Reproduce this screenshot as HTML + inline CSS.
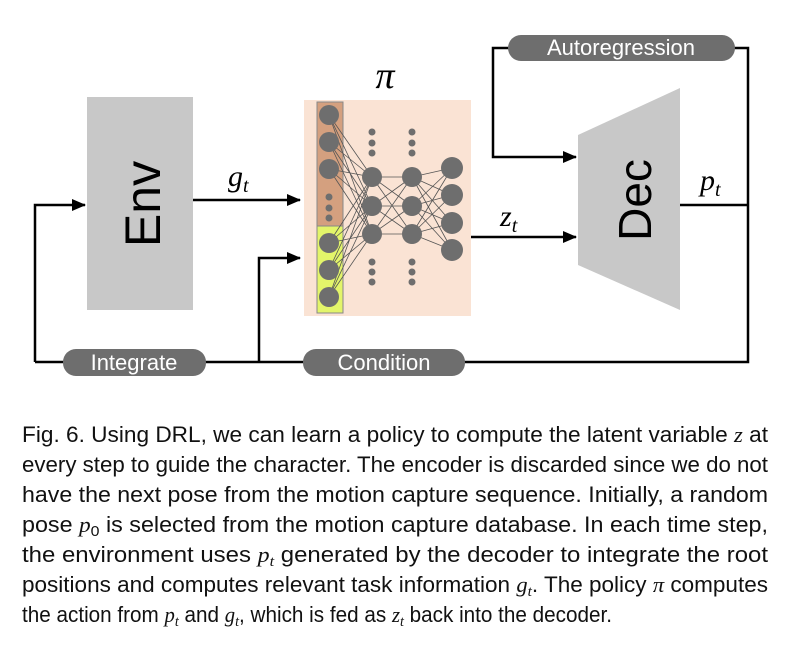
<!DOCTYPE html>
<html><head><meta charset="utf-8"><style>body{margin:0;background:#fff}svg{display:block}</style></head><body>
<svg width="786" height="662" viewBox="0 0 786 662" xmlns="http://www.w3.org/2000/svg">
<defs><marker id="ah" markerWidth="14" markerHeight="14" refX="13" refY="7" orient="auto" markerUnits="userSpaceOnUse"><path d="M0,1 L14,7 L0,13 z" fill="#000"/></marker></defs>
<g stroke="#000" stroke-width="2.5" fill="none">
<path d="M35,362 H748 V48 H493 V157 H576" marker-end="url(#ah)"/>
<path d="M35,362 V205 H85" marker-end="url(#ah)"/>
<path d="M259,362 V258 H300" marker-end="url(#ah)"/>
<path d="M193,200 H300" marker-end="url(#ah)"/>
<path d="M471,237 H576" marker-end="url(#ah)"/>
<path d="M680,205 H748"/>
</g>
<rect x="87" y="97" width="106" height="213" fill="#c8c8c8"/>
<text transform="translate(160,204) rotate(-90)" text-anchor="middle" font-family="Liberation Sans, sans-serif" font-size="50" fill="#000">Env</text>
<polygon points="578,135 680,88 680,310 578,265" fill="#c8c8c8"/>
<text transform="translate(651,200) rotate(-90)" text-anchor="middle" font-family="Liberation Sans, sans-serif" font-size="46" fill="#000">Dec</text>
<rect x="304" y="100" width="167" height="216" fill="#fae3d4"/>
<rect x="317" y="102" width="26" height="124" fill="#d4a07f" stroke="#888" stroke-width="1"/>
<rect x="317" y="226" width="26" height="87" fill="#e3f56a" stroke="#888" stroke-width="1"/>
<g stroke="#555" stroke-width="0.8">
<path d="M329,115 L372,177 M329,115 L372,206 M329,115 L372,234 M329,142 L372,177 M329,142 L372,206 M329,142 L372,234 M329,169 L372,177 M329,169 L372,206 M329,169 L372,234 M329,243 L372,177 M329,243 L372,206 M329,243 L372,234 M329,270 L372,177 M329,270 L372,206 M329,270 L372,234 M329,297 L372,177 M329,297 L372,206 M329,297 L372,234"/>
<path d="M372,177 L412,177 M372,177 L412,206 M372,177 L412,234 M372,206 L412,177 M372,206 L412,206 M372,206 L412,234 M372,234 L412,177 M372,234 L412,206 M372,234 L412,234"/>
<path d="M412,177 L452,168 M412,177 L452,195 M412,177 L452,223 M412,177 L452,250 M412,206 L452,168 M412,206 L452,195 M412,206 L452,223 M412,206 L452,250 M412,234 L452,168 M412,234 L452,195 M412,234 L452,223 M412,234 L452,250"/>
</g>
<g fill="#6e6e6e">
<circle cx="329" cy="115" r="10"/><circle cx="329" cy="142" r="10"/><circle cx="329" cy="169" r="10"/>
<circle cx="329" cy="243" r="10"/><circle cx="329" cy="270" r="10"/><circle cx="329" cy="297" r="10"/>
<circle cx="329" cy="197" r="3.5"/><circle cx="329" cy="208" r="3.5"/><circle cx="329" cy="218" r="3.5"/>
<circle cx="372" cy="177" r="10"/><circle cx="372" cy="206" r="10"/><circle cx="372" cy="234" r="10"/>
<circle cx="412" cy="177" r="10"/><circle cx="412" cy="206" r="10"/><circle cx="412" cy="234" r="10"/>
<circle cx="452" cy="168" r="11"/><circle cx="452" cy="195" r="11"/><circle cx="452" cy="223" r="11"/><circle cx="452" cy="250" r="11"/>
<circle cx="372" cy="132" r="3.5"/><circle cx="372" cy="143" r="3.5"/><circle cx="372" cy="153" r="3.5"/>
<circle cx="412" cy="132" r="3.5"/><circle cx="412" cy="143" r="3.5"/><circle cx="412" cy="153" r="3.5"/>
<circle cx="372" cy="262" r="3.5"/><circle cx="372" cy="272" r="3.5"/><circle cx="372" cy="282" r="3.5"/>
<circle cx="412" cy="262" r="3.5"/><circle cx="412" cy="272" r="3.5"/><circle cx="412" cy="282" r="3.5"/>
</g>
<g font-family="Liberation Serif, serif" font-style="italic" fill="#000">
<text x="385" y="88" font-size="38" text-anchor="middle">π</text>
<text x="228" y="186" font-size="30">g<tspan font-size="20" dy="6">t</tspan></text>
<text x="500" y="226" font-size="30">z<tspan font-size="20" dy="6">t</tspan></text>
<text x="700" y="190" font-size="30">p<tspan font-size="20" dy="6">t</tspan></text>
</g>
<g font-family="Liberation Sans, sans-serif" font-size="22" fill="#fff" text-anchor="middle">
<rect x="508" y="35" width="227" height="26" rx="13" fill="#6e6e6e"/><text x="621" y="55">Autoregression</text>
<rect x="63" y="349" width="143" height="27" rx="13" fill="#6e6e6e"/><text x="134" y="370">Integrate</text>
<rect x="303" y="349" width="162" height="27" rx="13" fill="#6e6e6e"/><text x="384" y="370">Condition</text>
</g>
<g font-family="Liberation Sans, sans-serif" font-size="22" fill="#111">
<text x="22" y="442" textLength="746" lengthAdjust="spacingAndGlyphs">Fig. 6.  Using DRL, we can learn a policy to compute the latent variable <tspan font-family="Liberation Serif, serif" font-style="italic">z</tspan> at</text>
<text x="22" y="472" textLength="746" lengthAdjust="spacingAndGlyphs">every step to guide the character. The encoder is discarded since we do not</text>
<text x="22" y="502" textLength="746" lengthAdjust="spacingAndGlyphs">have the next pose from the motion capture sequence. Initially, a random</text>
<text x="22" y="532" textLength="746" lengthAdjust="spacingAndGlyphs">pose <tspan font-family="Liberation Serif, serif" font-style="italic">p</tspan><tspan font-size="15" dy="4">0</tspan><tspan dy="-4"> is selected from the motion capture database. In each time step,</tspan></text>
<text x="22" y="562" textLength="746" lengthAdjust="spacingAndGlyphs">the environment uses <tspan font-family="Liberation Serif, serif" font-style="italic">p<tspan font-size="15" dy="4">t</tspan></tspan><tspan dy="-4"> generated by the decoder to integrate the root</tspan></text>
<text x="22" y="592" textLength="746" lengthAdjust="spacingAndGlyphs">positions and computes relevant task information <tspan font-family="Liberation Serif, serif" font-style="italic">g<tspan font-size="15" dy="4">t</tspan></tspan><tspan dy="-4">. The policy </tspan><tspan font-family="Liberation Serif, serif" font-style="italic">π</tspan> computes</text>
<text x="22" y="622" textLength="590" lengthAdjust="spacingAndGlyphs">the action from <tspan font-family="Liberation Serif, serif" font-style="italic">p<tspan font-size="15" dy="4">t</tspan></tspan><tspan dy="-4"> and </tspan><tspan font-family="Liberation Serif, serif" font-style="italic">g<tspan font-size="15" dy="4">t</tspan></tspan><tspan dy="-4">, which is fed as </tspan><tspan font-family="Liberation Serif, serif" font-style="italic">z<tspan font-size="15" dy="4">t</tspan></tspan><tspan dy="-4"> back into the decoder.</tspan></text>
</g>
</svg>
</body></html>
